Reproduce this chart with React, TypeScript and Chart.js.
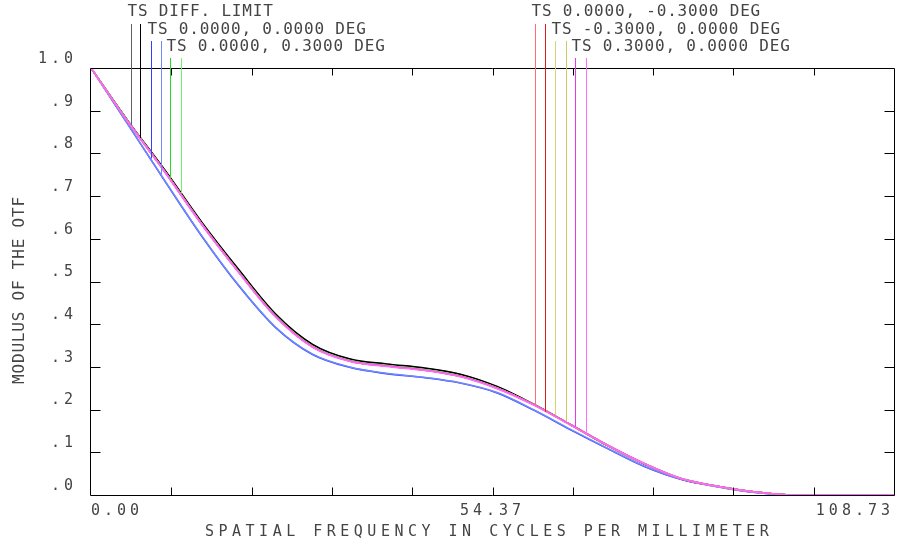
import React, { useEffect, useRef } from "react";
import { Chart, registerables } from "chart.js";

Chart.register(...registerables);

// ---------- data ----------
const X_MAX = 108.73;
const FREQ = [0, 5, 10, 15, 20, 25, 30, 35, 40, 45, 50, 55, 60, 65, 70, 75, 80, 85, 90, 95, 100, 108.73];

const DIFF_T = [1.0, 0.876, 0.760, 0.638, 0.527, 0.423, 0.352, 0.318, 0.306, 0.297, 0.282, 0.253, 0.212, 0.164, 0.115, 0.072, 0.037, 0.020, 0.007, 0, 0, 0];
const DIFF_S = [1.0, 0.876, 0.761, 0.639, 0.528, 0.424, 0.353, 0.319, 0.307, 0.298, 0.283, 0.254, 0.212, 0.164, 0.115, 0.072, 0.037, 0.020, 0.007, 0, 0, 0];
const F00_T = [1.0, 0.868, 0.735, 0.606, 0.490, 0.392, 0.329, 0.299, 0.284, 0.275, 0.262, 0.239, 0.198, 0.152, 0.108, 0.066, 0.036, 0.019, 0.006, 0, 0, 0];
const F00_S = [1.0, 0.868, 0.736, 0.607, 0.491, 0.393, 0.330, 0.300, 0.285, 0.276, 0.263, 0.240, 0.199, 0.153, 0.109, 0.067, 0.036, 0.019, 0.006, 0, 0, 0];
const F0P3_T = [1.0, 0.875, 0.758, 0.635, 0.523, 0.419, 0.348, 0.315, 0.303, 0.294, 0.279, 0.251, 0.211, 0.164, 0.116, 0.073, 0.038, 0.020, 0.007, 0, 0, 0];
const F0P3_S = [1.0, 0.875, 0.758, 0.635, 0.523, 0.419, 0.348, 0.315, 0.303, 0.294, 0.279, 0.251, 0.211, 0.164, 0.116, 0.073, 0.038, 0.020, 0.007, 0, 0, 0];
const F0M3_T = [1.0, 0.874, 0.757, 0.634, 0.522, 0.418, 0.347, 0.314, 0.302, 0.293, 0.278, 0.250, 0.211, 0.164, 0.116, 0.073, 0.038, 0.020, 0.007, 0, 0, 0];
const F0M3_S = [1.0, 0.874, 0.757, 0.634, 0.522, 0.418, 0.347, 0.314, 0.302, 0.293, 0.278, 0.250, 0.211, 0.164, 0.116, 0.073, 0.038, 0.020, 0.007, 0, 0, 0];
const FM3_T = [1.0, 0.874, 0.757, 0.634, 0.522, 0.418, 0.347, 0.314, 0.302, 0.293, 0.278, 0.250, 0.211, 0.164, 0.116, 0.073, 0.038, 0.020, 0.007, 0, 0, 0];
const FM3_S = [1.0, 0.874, 0.757, 0.634, 0.522, 0.418, 0.347, 0.314, 0.302, 0.293, 0.278, 0.250, 0.211, 0.164, 0.116, 0.073, 0.038, 0.020, 0.007, 0, 0, 0];
const FP3_T = [1.0, 0.874, 0.757, 0.634, 0.522, 0.418, 0.347, 0.314, 0.302, 0.293, 0.278, 0.250, 0.211, 0.164, 0.116, 0.073, 0.038, 0.020, 0.007, 0, 0, 0];
const FP3_S = [1.0, 0.874, 0.756, 0.633, 0.521, 0.417, 0.346, 0.313, 0.301, 0.292, 0.277, 0.249, 0.210, 0.163, 0.116, 0.073, 0.038, 0.020, 0.007, 0, 0, 0];

const X_TICKS = [0, 10.873, 21.746, 32.619, 43.492, 54.365, 65.238, 76.111, 86.984, 97.857, 108.73];
const X_LABELS = ["0.00", "", "", "", "", "54.37", "", "", "", "", "108.73"];
const Y_TICKS = [0, 0.1, 0.2, 0.3, 0.4, 0.5, 0.6, 0.7, 0.8, 0.9, 1.0];
const Y_LABELS = [".0", ".1", ".2", ".3", ".4", ".5", ".6", ".7", ".8", ".9", "1.0"];

const LEGEND_LABELS = [
  "TS DIFF. LIMIT",
  "TS 0.0000, 0.0000 DEG",
  "TS 0.0000, 0.3000 DEG",
  "TS 0.0000, -0.3000 DEG",
  "TS -0.3000, 0.0000 DEG",
  "TS 0.3000, 0.0000 DEG",
];
const MARKER_FREQ_T = [5.38, 8.12, 10.74, 60.08, 62.83, 65.58];
const MARKER_FREQ_S = [6.68, 9.48, 12.19, 61.52, 64.28, 67.03];
const MARKER_END_T = [0.866, 0.788, 0.742, 0.211, 0.187, 0.160];
const MARKER_END_S = [0.836, 0.749, 0.707, 0.195, 0.172, 0.145];

const X_TITLE = "SPATIAL FREQUENCY IN CYCLES PER MILLIMETER";
const Y_TITLE = "MODULUS OF THE OTF";

// ---------- styles ----------
const FONT = "'DejaVu Sans Mono', monospace";
const TEXT = "#444444";
const COLORS_T = ["#606060", "#3040ff", "#20dd20", "#ff7070", "#d6d672", "#e838e8"];
const COLORS_S = ["#000000", "#7088ff", "#70ee70", "#e01818", "#caca60", "#ff6cff"];
const SERIES_T = [DIFF_T, F00_T, F0P3_T, F0M3_T, FM3_T, FP3_T];
const SERIES_S = [DIFF_S, F00_S, F0P3_S, F0M3_S, FM3_S, FP3_S];
const ROW_TEXT_Y = [12, 30, 47];
const ROW_LINE_Y = [24, 41, 58];

const toPts = (vals: number[]) => FREQ.map((f, i) => ({ x: f, y: vals[i] }));

const overlay = {
  id: "overlay",
  beforeDraw(chart: any) {
    (chart.ctx as any).letterSpacing = "4px";
  },
  afterDraw(chart: any) {
    const ctx = chart.ctx as CanvasRenderingContext2D & { letterSpacing: string };
    const { left, right, top, bottom } = chart.chartArea;
    const xs = chart.scales.x;
    const ys = chart.scales.y;
    ctx.save();
    ctx.letterSpacing = "0px";
    ctx.strokeStyle = "#000";
    ctx.lineWidth = 1;
    const L = Math.round(left) - 0.5;
    const R = Math.round(right) + 0.5;
    const T = Math.round(top) + 0.5;
    const B = Math.round(bottom) + 0.5;
    ctx.beginPath();
    ctx.moveTo(L, T); ctx.lineTo(R, T); ctx.lineTo(R, B); ctx.lineTo(L, B); ctx.closePath();
    X_TICKS.slice(1, -1).forEach((v) => {
      const px = Math.round(xs.getPixelForValue(v)) + 0.5;
      ctx.moveTo(px, B); ctx.lineTo(px, B - 8);
      ctx.moveTo(px, T); ctx.lineTo(px, T + 7);
    });
    Y_TICKS.slice(1, -1).forEach((v) => {
      const py = Math.round(ys.getPixelForValue(v)) + 0.5;
      ctx.moveTo(L, py); ctx.lineTo(L + 10, py);
      ctx.moveTo(R, py); ctx.lineTo(R - 10, py);
    });
    ctx.stroke();

    LEGEND_LABELS.forEach((label, i) => {
      const row = i % 3;
      const xT = Math.round(xs.getPixelForValue(MARKER_FREQ_T[i])) + 0.5;
      const xS = Math.round(xs.getPixelForValue(MARKER_FREQ_S[i])) + 0.5;
      const yT = ys.getPixelForValue(MARKER_END_T[i]);
      const yS = ys.getPixelForValue(MARKER_END_S[i]);
      ctx.lineWidth = 1;
      ctx.strokeStyle = COLORS_T[i];
      ctx.beginPath(); ctx.moveTo(xT, ROW_LINE_Y[row]); ctx.lineTo(xT, yT); ctx.stroke();
      ctx.strokeStyle = COLORS_S[i];
      ctx.beginPath(); ctx.moveTo(xS, ROW_LINE_Y[row]); ctx.lineTo(xS, yS); ctx.stroke();
      ctx.fillStyle = TEXT;
      ctx.font = `16px ${FONT}`;
      ctx.letterSpacing = "0.8px";
      ctx.textAlign = "left";
      ctx.textBaseline = "middle";
      ctx.fillText(label, xT - 4, ROW_TEXT_Y[row]);
    });

    ctx.fillStyle = TEXT;
    ctx.font = `15px ${FONT}`;
    ctx.letterSpacing = "4.5px";
    ctx.textAlign = "left";
    ctx.textBaseline = "middle";
    ctx.fillText(X_TITLE, 205, 532);

    ctx.save();
    ctx.translate(20, 290);
    ctx.rotate(-Math.PI / 2);
    ctx.font = `16px ${FONT}`;
    ctx.letterSpacing = "0.8px";
    ctx.textAlign = "center";
    ctx.fillText(Y_TITLE, 0, 0);
    ctx.restore();

    ctx.restore();
    ctx.letterSpacing = "0px";
  },
};

export default function App() {
  const ref = useRef<HTMLCanvasElement>(null);
  useEffect(() => {
    document.body.style.margin = "0";
    const canvas = ref.current!;
    const drawOrder: any[] = [];
    SERIES_T.forEach((_, i) => {
      drawOrder.push({
        data: toPts(SERIES_T[i]),
        borderColor: COLORS_T[i],
        borderWidth: 1.5,
        pointRadius: 0,
        cubicInterpolationMode: "monotone",
        fill: false,
      });
      drawOrder.push({
        data: toPts(SERIES_S[i]),
        borderColor: COLORS_S[i],
        borderWidth: 1.5,
        pointRadius: 0,
        cubicInterpolationMode: "monotone",
        fill: false,
      });
    });
    // Chart.js paints dataset 0 last (on top), so reverse to put magenta on top
    const datasets = drawOrder.slice().reverse();
    const chart = new Chart(canvas, {
      type: "line",
      data: { datasets },
      options: {
        animation: false,
        responsive: false,
        devicePixelRatio: 1,
        layout: { padding: { top: 68, right: 8, left: 0, bottom: 0 } },
        plugins: { legend: { display: false }, tooltip: { enabled: false }, title: { display: false } },
        scales: {
          x: {
            type: "linear",
            min: 0,
            max: X_MAX,
            afterBuildTicks: (s: any) => { s.ticks = X_TICKS.map((v) => ({ value: v })); },
            afterFit: (s: any) => { s.height = 51; },
            grid: { display: false, drawTicks: false },
            border: { display: false },
            ticks: {
              autoSkip: false,
              maxRotation: 0,
              minRotation: 0,
              align: "inner",
              padding: 7,
              color: TEXT,
              font: { family: FONT, size: 15 },
              callback: (_v: any, i: number) => X_LABELS[i],
            },
          },
          y: {
            type: "linear",
            min: 0,
            max: 1,
            afterBuildTicks: (s: any) => { s.ticks = Y_TICKS.map((v) => ({ value: v })); },
            afterFit: (s: any) => { s.width = 91; },
            grid: { display: false, drawTicks: false },
            border: { display: false },
            ticks: {
              autoSkip: false,
              padding: 14,
              labelOffset: -9,
              color: TEXT,
              font: { family: FONT, size: 15 },
              callback: (_v: any, i: number) => Y_LABELS[i],
            },
          },
        },
      } as any,
      plugins: [overlay],
    });
    return () => chart.destroy();
  }, []);
  return (
    <div style={{ width: 902, height: 546, background: "#fff" }}>
      <canvas ref={ref} width={902} height={546} style={{ display: "block" }} />
    </div>
  );
}
